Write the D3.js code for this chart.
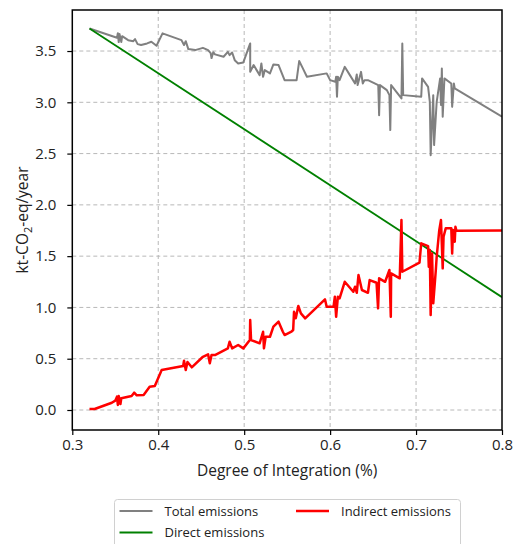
<!DOCTYPE html>
<html>
<head>
<meta charset="utf-8">
<script src="https://cdn.jsdelivr.net/npm/d3@7"></script>
<style>
  html, body { margin: 0; padding: 0; background: #fff; }
  svg { display: block; font-family: "Open Sans", "DejaVu Sans", sans-serif; }
</style>
</head>
<body>
<div id="chart"></div>
<script>
// Degree of integration (fraction) vs. emissions in kt-CO2-eq/year
const totalX = [0.320, 0.352, 0.353, 0.354, 0.355, 0.357, 0.358, 0.365, 0.371, 0.373, 0.376, 0.380, 0.387, 0.392, 0.398,
  0.405, 0.427, 0.430, 0.432, 0.435, 0.443, 0.452, 0.458, 0.461, 0.462, 0.464, 0.466, 0.476, 0.481, 0.483, 0.486,
  0.489, 0.493, 0.499, 0.507, 0.507, 0.511, 0.518, 0.520, 0.522, 0.524, 0.530, 0.534, 0.540, 0.547, 0.561, 0.564,
  0.568, 0.573, 0.596, 0.600, 0.606, 0.607, 0.608, 0.609, 0.611, 0.617, 0.623, 0.629, 0.631, 0.632, 0.636, 0.638,
  0.640, 0.644, 0.656, 0.657, 0.658, 0.666, 0.669, 0.670, 0.671, 0.683, 0.684, 0.685, 0.706, 0.707, 0.714, 0.716,
  0.717, 0.720, 0.721, 0.724, 0.728, 0.729, 0.730, 0.731, 0.733, 0.741, 0.742, 0.744, 0.745, 0.800];
const totalY = [3.720, 3.629, 3.674, 3.587, 3.665, 3.587, 3.645, 3.606, 3.596, 3.616, 3.567, 3.558, 3.574, 3.590, 3.551,
  3.672, 3.606, 3.558, 3.596, 3.519, 3.509, 3.531, 3.509, 3.480, 3.431, 3.489, 3.467, 3.444, 3.492, 3.460, 3.486,
  3.411, 3.379, 3.389, 3.574, 3.297, 3.363, 3.265, 3.379, 3.249, 3.314, 3.282, 3.369, 3.363, 3.216, 3.216, 3.402,
  3.336, 3.249, 3.282, 3.216, 3.200, 3.249, 3.054, 3.249, 3.216, 3.346, 3.265, 3.184, 3.272, 3.168, 3.297, 3.184,
  3.216, 3.216, 3.168, 2.875, 3.168, 3.119, 3.070, 2.729, 3.168, 3.038, 3.574, 3.070, 3.054, 3.233, 3.151, 3.005,
  2.485, 3.070, 2.583, 3.005, 3.233, 2.973, 3.330, 2.859, 3.233, 3.184, 2.956, 3.184, 3.135, 2.860];

const directX = [0.320, 0.800];
const directY = [3.720, 1.100];

const indirectX = [0.320, 0.326, 0.346, 0.350, 0.352, 0.353, 0.354, 0.356, 0.357, 0.369, 0.372, 0.375, 0.383, 0.390,
  0.396, 0.404, 0.429, 0.430, 0.432, 0.434, 0.439, 0.452, 0.458, 0.460, 0.462, 0.466, 0.481, 0.483, 0.486, 0.493,
  0.499, 0.5066, 0.507, 0.508, 0.518, 0.522, 0.523, 0.525, 0.530, 0.534, 0.540, 0.545, 0.547, 0.555, 0.557, 0.558,
  0.560, 0.563, 0.566, 0.571, 0.594, 0.596, 0.604, 0.6055, 0.607, 0.609, 0.611, 0.617, 0.627, 0.629, 0.631, 0.633,
  0.637, 0.644, 0.646, 0.654, 0.6558, 0.657, 0.664, 0.669, 0.6706, 0.671, 0.681, 0.683, 0.684, 0.704, 0.706, 0.714,
  0.7148, 0.716, 0.717, 0.7186, 0.720, 0.723, 0.724, 0.727, 0.729, 0.731, 0.732, 0.7345, 0.741, 0.742, 0.743, 0.745,
  0.7458, 0.747, 0.800];
const indirectY = [0.010, 0.010, 0.071, 0.091, 0.130, 0.049, 0.136, 0.058, 0.114, 0.136, 0.169, 0.143, 0.146, 0.227,
  0.234, 0.390, 0.429, 0.481, 0.390, 0.468, 0.416, 0.519, 0.543, 0.455, 0.536, 0.536, 0.601, 0.666, 0.601, 0.634,
  0.601, 0.682, 0.877, 0.682, 0.650, 0.763, 0.601, 0.714, 0.714, 0.812, 0.861, 0.763, 0.731, 0.763, 0.780, 0.958,
  0.894, 1.014, 0.942, 0.894, 1.079, 1.007, 1.007, 1.104, 0.909, 1.104, 1.089, 1.250, 1.153, 1.202, 1.143, 1.316,
  1.170, 1.143, 1.267, 1.241, 0.991, 1.284, 1.250, 1.365, 0.909, 1.332, 1.284, 1.852, 1.348, 1.436, 1.625, 1.598,
  1.397, 1.559, 0.926, 1.527, 1.040, 1.365, 1.494, 1.754, 1.852, 1.381, 1.689, 1.771, 1.771, 1.527, 1.754, 1.640,
  1.787, 1.748, 1.750];

const xTicks = [0.3, 0.4, 0.5, 0.6, 0.7, 0.8];
const yTicks = [0.0, 0.5, 1.0, 1.5, 2.0, 2.5, 3.0, 3.5];

const seriesNames = ["Total emissions", "Direct emissions", "Indirect emissions"];
const seriesColors = ["#808080", "#008000", "#ff0000"];

const W = 517, H = 544;
const plot = { left: 72.3, right: 502, top: 10, bottom: 430 };

const svg = d3.select("#chart").append("svg")
  .attr("width", W).attr("height", H);

const x = d3.scaleLinear().domain([0.3, 0.8]).range([plot.left, plot.right]);
const y = d3.scaleLinear().domain([-0.195, 3.9]).range([plot.bottom, plot.top]);

// dashed grid
const grid = svg.append("g").attr("stroke", "#b8b8b8").attr("stroke-width", 1)
  .attr("stroke-dasharray", "4,3");
grid.selectAll("line.gx").data(xTicks.filter(t => t > 0.3 && t < 0.8)).join("line")
  .attr("x1", d => x(d)).attr("x2", d => x(d))
  .attr("y1", plot.top).attr("y2", plot.bottom);
grid.selectAll("line.gy").data(yTicks).join("line")
  .attr("x1", plot.left).attr("x2", plot.right)
  .attr("y1", d => y(d)).attr("y2", d => y(d));

// series
const line = d3.line().x(d => x(d[0])).y(d => y(d[1]));
const zip = (a, b) => a.map((v, i) => [v, b[i]]);
const series = [
  { pts: zip(totalX, totalY), color: seriesColors[0], w: 2 },
  { pts: zip(directX, directY), color: seriesColors[1], w: 1.8 },
  { pts: zip(indirectX, indirectY), color: seriesColors[2], w: 2.5 }
];
svg.append("clipPath").attr("id", "plotclip").append("rect")
  .attr("x", plot.left).attr("y", plot.top)
  .attr("width", plot.right - plot.left).attr("height", plot.bottom - plot.top);
svg.append("g").attr("clip-path", "url(#plotclip)")
  .selectAll("path").data(series).join("path")
  .attr("d", d => line(d.pts))
  .attr("fill", "none")
  .attr("stroke", d => d.color)
  .attr("stroke-width", d => d.w)
  .attr("stroke-linejoin", "round");

// axes
const xAxis = d3.axisBottom(x).tickValues(xTicks).tickFormat(d3.format(".1f")).tickSize(5).tickPadding(4);
const yAxis = d3.axisLeft(y).tickValues(yTicks).tickFormat(d3.format(".1f")).tickSize(5).tickPadding(11);

const gx = svg.append("g").attr("transform", `translate(0,${plot.bottom})`).call(xAxis);
const gy = svg.append("g").attr("transform", `translate(${plot.left},0)`).call(yAxis);
[gx, gy].forEach(g => {
  g.select(".domain").remove();
  g.selectAll(".tick line").attr("stroke", "#000").attr("stroke-width", 1.2);
  g.selectAll(".tick text").attr("fill", "#222").style("font-size", "15px")
    .style("font-family", "'Open Sans', sans-serif");
});

// frame
svg.append("rect")
  .attr("x", plot.left).attr("y", plot.top)
  .attr("width", plot.right - plot.left).attr("height", plot.bottom - plot.top)
  .attr("fill", "none").attr("stroke", "#000").attr("stroke-width", 1.5);

// axis titles
svg.append("text")
  .attr("x", (plot.left + plot.right) / 2).attr("y", 476)
  .attr("text-anchor", "middle").attr("fill", "#222")
  .style("font-size", "15.5px")
  .text("Degree of Integration (%)");

const yl = svg.append("text")
  .attr("transform", `translate(28,${(plot.top + plot.bottom) / 2}) rotate(-90)`)
  .attr("text-anchor", "middle").attr("fill", "#222")
  .style("font-size", "15.5px");
yl.append("tspan").text("kt-CO");
yl.append("tspan").attr("dy", 4).style("font-size", "11px").text("2");
yl.append("tspan").attr("dy", -4).text("-eq/year");

// legend
const lg = svg.append("g");
lg.append("rect")
  .attr("x", 114.5).attr("y", 499.5).attr("width", 346).attr("height", 60)
  .attr("rx", 3).attr("fill", "#fff").attr("stroke", "#d0d0d0").attr("stroke-width", 1);
const legendItems = [
  { name: seriesNames[0], color: seriesColors[0], w: 2, lx: 119.5, ly: 511 },
  { name: seriesNames[1], color: seriesColors[1], w: 2, lx: 119.5, ly: 532.5 },
  { name: seriesNames[2], color: seriesColors[2], w: 2.5, lx: 296, ly: 511 }
];
const li = lg.selectAll("g.item").data(legendItems).join("g");
li.append("line")
  .attr("x1", d => d.lx).attr("x2", d => d.lx + 33)
  .attr("y1", d => d.ly).attr("y2", d => d.ly)
  .attr("stroke", d => d.color).attr("stroke-width", d => d.w);
li.append("text")
  .attr("x", d => d.lx + 45).attr("y", d => d.ly)
  .attr("dy", "0.35em").attr("fill", "#222")
  .style("font-size", "13px")
  .text(d => d.name);
</script>
</body>
</html>
